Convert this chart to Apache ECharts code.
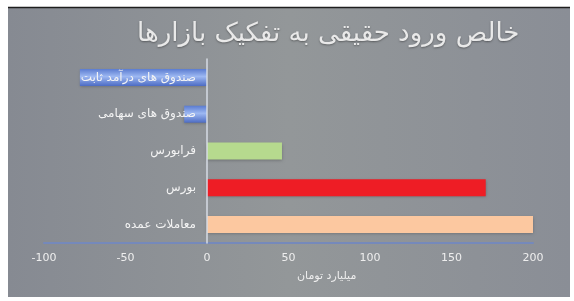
<!DOCTYPE html>
<html>
<head>
<meta charset="utf-8">
<script src="https://cdn.jsdelivr.net/npm/echarts@6/dist/echarts.min.js"></script>
<style>
  html, body { margin: 0; padding: 0; background: #ffffff; }
  #chart { width: 574px; height: 301px; }
</style>
</head>
<body>
<div id="chart"></div>
<script>
// بازارها و خالص ورود (میلیارد تومان)
const categories = ['صندوق های درآمد ثابت', 'صندوق های سهامی', 'فرابورس', 'بورس', 'معاملات عمده']
const values = [-78, -14, 46, 171, 200]
const tickValues = [-100, -50, 0, 50, 100, 150, 200]

const blueBar = {
  type: 'linear', x: 0, y: 0, x2: 0, y2: 1,
  colorStops: [
    { offset: 0, color: '#5a7bd0' },
    { offset: 0.45, color: '#9db8f2' },
    { offset: 1, color: '#4d6cc4' }
  ]
}
const barColors = [blueBar, blueBar, '#b6da8e', '#ee1d25', '#fcc8a0']

const chart = echarts.init(document.getElementById('chart'))

// the category axis sits on the zero of the value axis: 0 is 1/3 of the way across
const gridLeft = 44
const gridRight = 41
const zeroOffset = (574 - gridLeft - gridRight) * (0 - tickValues[0]) / (tickValues[tickValues.length - 1] - tickValues[0])

chart.setOption({
  backgroundColor: '#ffffff',
  animation: false,
  textStyle: { fontFamily: 'DejaVu Sans' },
  graphic: [
    {
      type: 'rect',
      z: -10,
      shape: { x: 8, y: 7, width: 562, height: 290 },
      style: {
        fill: {
          type: 'linear', x: 0, y: 0, x2: 1, y2: 0,
          colorStops: [
            { offset: 0, color: '#868a92' },
            { offset: 0.5, color: '#939799' },
            { offset: 1, color: '#8a8e96' }
          ]
        }
      }
    },
    {
      type: 'line',
      z: -9,
      shape: { x1: 8, y1: 7.5, x2: 570, y2: 7.5 },
      style: { stroke: '#1e1e1e', lineWidth: 1.5 }
    },
    {
      type: 'text',
      left: 297,
      top: 271,
      style: {
        text: 'میلیارد تومان',
        fill: '#eeeeee',
        font: '11px DejaVu Sans'
      }
    }
  ],
  title: {
    text: 'خالص ورود حقیقی به تفکیک بازارها',
    left: 132,
    top: 16,
    textStyle: {
      color: '#e9e9e9',
      fontSize: 26,
      fontWeight: 'normal',
      fontFamily: 'DejaVu Sans',
      textShadowColor: 'rgba(0,0,0,0.35)',
      textShadowBlur: 2,
      textShadowOffsetY: 1
    }
  },
  grid: {
    left: gridLeft,
    right: gridRight,
    top: 59,
    bottom: 58,
    containLabel: false,
    outerBoundsMode: 'none'
  },
  xAxis: {
    type: 'value',
    min: tickValues[0],
    max: tickValues[tickValues.length - 1],
    interval: 50,
    axisLine: { show: true, lineStyle: { color: '#7589bb', width: 2 } },
    axisTick: { show: false },
    splitLine: { show: false },
    axisLabel: { color: '#eeeeee', fontSize: 11, margin: 10 }
  },
  yAxis: {
    type: 'category',
    inverse: true,
    data: categories,
    offset: -zeroOffset,
    axisLine: { onZero: false, lineStyle: { color: '#d6dbe4', width: 1.5 } },
    axisTick: { show: false },
    axisLabel: { color: '#f4f4f4', fontSize: 12, margin: 11 },
    z: 5
  },
  series: [
    {
      type: 'bar',
      data: values.map((v, i) => ({ value: v, itemStyle: { color: barColors[i] } })),
      barWidth: 17,
      itemStyle: {
        shadowColor: 'rgba(0,0,0,0.25)',
        shadowBlur: 3,
        shadowOffsetY: 1
      }
    }
  ]
})
</script>
</body>
</html>
